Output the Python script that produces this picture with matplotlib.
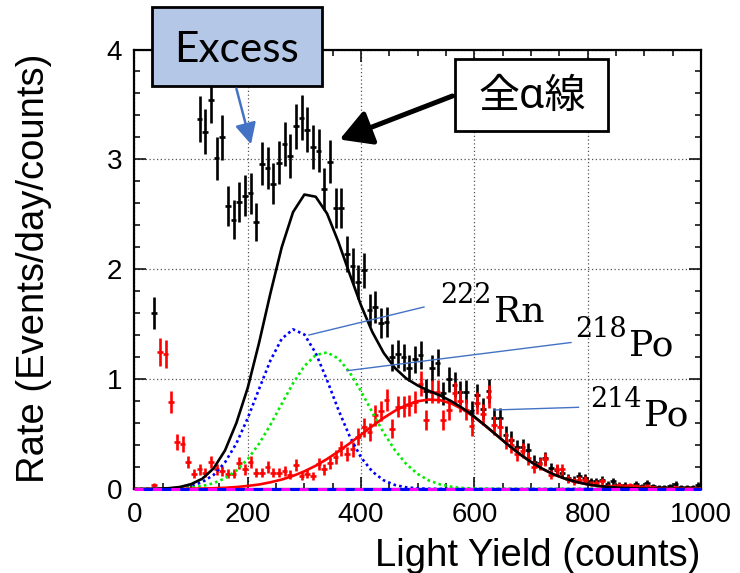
import numpy as np
import matplotlib
matplotlib.use("Agg")
import matplotlib.pyplot as plt
from matplotlib.ticker import MultipleLocator
from matplotlib.patches import Rectangle, FancyArrowPatch
from matplotlib.lines import Line2D

plt.rcParams['font.family'] = ['Liberation Sans', 'DejaVu Sans']

# ---------------- data ----------------
black_x = [35, 115, 125, 135, 145, 155, 165, 175, 185, 195, 205, 215, 225, 235, 245,
           255, 265, 275, 285, 295, 305, 315, 325, 335, 345, 355, 365, 375, 385, 395,
           405, 415, 425, 435, 445, 455, 465, 475, 485, 495, 505, 515, 525, 535, 545,
           555, 565, 575, 585, 595, 605, 615, 625, 635, 645, 655, 665, 675, 685, 695,
           705, 715, 725, 735, 745, 755, 765, 775, 785, 795, 805, 815, 825, 835, 845,
           855, 865, 875, 885, 895, 905, 915, 925, 935, 945, 955, 965, 975, 985, 995]
black_y = [1.60, 3.37, 3.25, 3.54, 3.01, 3.20, 2.58, 2.45, 2.61, 2.67, 2.69, 2.43, 2.96, 2.92, 2.78,
           2.97, 3.14, 3.03, 3.30, 3.38, 3.27, 3.11, 3.08, 2.73, 2.98, 2.56, 2.56, 2.14, 2.03, 1.88,
           1.99, 1.63, 1.66, 1.51, 1.52, 1.20, 1.23, 1.20, 1.10, 1.18, 1.22, 0.89, 1.10, 1.15, 0.87,
           1.00, 0.95, 0.88, 0.885, 0.71, 0.855, 0.73, 0.89, 0.65, 0.65, 0.49, 0.45, 0.38, 0.385, 0.355,
           0.25, 0.235, 0.28, 0.19, 0.17, 0.15, 0.10, 0.085, 0.12, 0.10, 0.07, 0.07, 0.085, 0.05, 0.07,
           0.04, 0.04, 0.03, 0.045, 0.03, 0.057, 0.03, 0.02, 0.02, 0.03, 0.05, 0.02, 0.02, 0.02, 0.04]

red_x = [35, 45, 55, 65, 75, 85, 95, 105, 115, 125, 135, 145, 155, 165, 175,
         185, 195, 205, 215, 225, 235, 245, 255, 265, 275, 285, 295, 305, 315, 325,
         335, 345, 355, 365, 375, 385, 395, 405, 415, 425, 435, 445, 455, 465, 475,
         485, 495, 505, 515, 525, 535, 545, 555, 565, 575, 585, 595, 605, 615, 625,
         635, 645, 655, 665, 675, 685, 695, 705, 715, 725, 735, 745, 755, 765, 775,
         785, 795, 805, 815, 825, 835, 845, 855, 865, 875, 885, 895, 905, 915, 925,
         935, 945, 955, 965, 975, 985, 995]
red_y = [0.036, 1.25, 1.23, 0.79, 0.43, 0.41, 0.245, 0.14, 0.18, 0.15, 0.245, 0.18, 0.16, 0.14, 0.14,
         0.24, 0.18, 0.245, 0.15, 0.15, 0.20, 0.15, 0.15, 0.16, 0.13, 0.22, 0.12, 0.14, 0.12, 0.23,
         0.18, 0.24, 0.29, 0.37, 0.32, 0.36, 0.475, 0.56, 0.52, 0.67, 0.71, 0.81, 0.55, 0.75, 0.75,
         0.76, 0.79, 0.96, 0.63, 0.885, 0.885, 0.63, 0.72, 0.87, 0.80, 0.72, 0.57, 0.78, 0.68, 0.84,
         0.58, 0.56, 0.44, 0.40, 0.32, 0.35, 0.28, 0.20, 0.23, 0.27, 0.13, 0.18, 0.18, 0.09, 0.07,
         0.085, 0.085, 0.05, 0.055, 0.07, 0.03, 0.025, 0.035, 0.03, 0.035, 0.03, 0.02, 0.03, 0.015, 0.01,
         0.01, 0.01, 0.015, 0.01, 0.01, 0.005, 0.01]

# fit curves, sampled every 20 counts from 0 to 1000
fit_x = list(range(0, 1001, 20))
rn222_fit = [0, 0, 0.001, 0.004, 0.011, 0.028, 0.063, 0.129, 0.243, 0.415, 0.644, 0.910, 1.169, 1.367,
             1.453, 1.406, 1.237, 0.991, 0.721, 0.478, 0.288, 0.158, 0.079, 0.036, 0.015, 0.006, 0.002,
             0.001] + [0] * 23
po218_fit = [0, 0, 0.001, 0.002, 0.006, 0.013, 0.027, 0.053, 0.098, 0.168, 0.272, 0.412, 0.584, 0.775,
             0.962, 1.119, 1.219, 1.243, 1.187, 1.062, 0.889, 0.697, 0.512, 0.352, 0.226, 0.137, 0.077,
             0.041, 0.020, 0.009, 0.004, 0.002, 0.001] + [0] * 18
po214_fit = [0, 0, 0, 0.001, 0.001, 0.003, 0.004, 0.007, 0.011, 0.018, 0.028, 0.041, 0.061, 0.086,
             0.119, 0.161, 0.212, 0.273, 0.341, 0.416, 0.494, 0.573, 0.647, 0.712, 0.764, 0.799, 0.814,
             0.808, 0.777, 0.724, 0.654, 0.572, 0.486, 0.399, 0.318, 0.246, 0.184, 0.133, 0.094, 0.064,
             0.042, 0.027, 0.017, 0.010, 0.006, 0.003, 0.002, 0.001, 0.001, 0, 0]
total_fit = [0, 0, 0.002, 0.007, 0.018, 0.044, 0.094, 0.189, 0.352, 0.601, 0.92, 1.33, 1.78, 2.20,
             2.52, 2.68, 2.66, 2.507, 2.249, 1.956, 1.671, 1.428, 1.238, 1.100, 1.005, 0.942, 0.893,
             0.850, 0.797, 0.733, 0.658, 0.574, 0.487, 0.399, 0.318, 0.246, 0.184, 0.133, 0.094, 0.064,
             0.042, 0.027, 0.017, 0.010, 0.006, 0.003, 0.002, 0.001, 0.001, 0, 0]

x_ticks = [0, 200, 400, 600, 800, 1000]
y_ticks = [0, 1, 2, 3, 4]
bin_half = 5
exposure = 78.0   # rate -> counts scale for Poisson error bars

W, H = 740, 573
fig = plt.figure(figsize=(W / 100, H / 100), dpi=100)


def fx(px):
    return px / W


def fy(py):
    return 1 - py / H


ax = fig.add_axes([fx(134.4), fy(489), fx(701) - fx(134.4), fy(49.5) - fy(489)])
ax.set_xlim(0, 1000)
ax.set_ylim(0, 4)

bx = np.array(black_x, float)
by = np.array(black_y, float)
rx = np.array(red_x, float)
ry = np.array(red_y, float)

ax.errorbar(bx, by, yerr=np.sqrt(by * exposure) / exposure, xerr=bin_half, fmt='none',
            ecolor='black', elinewidth=1.9, capsize=0, zorder=3)
ax.errorbar(rx, ry, yerr=np.sqrt(ry * exposure) / exposure, xerr=bin_half, fmt='none',
            ecolor='#ff0000', elinewidth=1.9, capsize=0, zorder=3)

# baseline components
ax.plot([0, 1000], [0, 0], color='#ff00ff', lw=2.2, ls=(0, (3, 3)), zorder=5, clip_on=False)
ax.plot([0, 1000], [0, 0], color='#0000ff', lw=2.2, ls=(3, (3, 3)), zorder=5, clip_on=False)

ax.plot(fit_x, rn222_fit, color='#0000ff', lw=1.9, ls=(0, (1, 1.2)), zorder=4)
ax.plot(fit_x, po218_fit, color='#00ee00', lw=1.9, ls=(0, (1, 1.2)), zorder=4)
ax.plot(fit_x, po214_fit, color='#ff0000', lw=1.9, zorder=4)
ax.plot(fit_x, total_fit, color='black', lw=1.9, zorder=4)

ax.xaxis.set_major_locator(MultipleLocator(200))
ax.xaxis.set_minor_locator(MultipleLocator(50))
ax.yaxis.set_major_locator(MultipleLocator(1))
ax.yaxis.set_minor_locator(MultipleLocator(0.2))
ax.set_xticks(x_ticks)
ax.set_xticklabels([str(v) for v in x_ticks])
ax.set_yticks(y_ticks)
ax.set_yticklabels([str(v) for v in y_ticks])
ax.tick_params(which='both', direction='in', top=True, right=True, width=1.1, labelsize=20)
ax.tick_params(which='major', length=8.6)
ax.tick_params(which='minor', length=4.3)
ax.tick_params(axis='x', pad=9)
ax.tick_params(axis='y', pad=9)
ax.grid(which='major', color='#555555', lw=0.9, ls=(0, (1, 2)))
for s in ax.spines.values():
    s.set_linewidth(1.6)

fig.text(fx(700), fy(566), 'Light Yield (counts)', ha='right', va='baseline', fontsize=27.5)
fig.text(fx(34), fy(54), 'Rate (Events/day/counts)', ha='center', va='top', rotation=90, fontsize=27.5)

# isotope labels
lab_kw = dict(family='DejaVu Serif', color='black')
for sup, sym, sx, base in [('222', 'Rn', 494, 322), ('218', 'Po', 629, 356), ('214', 'Po', 644, 426)]:
    fig.text(fx(sx), fy(base), sym, ha='left', va='baseline', fontsize=26, **lab_kw)
    fig.text(fx(sx - 2), fy(base - 19), sup, ha='right', va='baseline', fontsize=19.5, **lab_kw)

lead_col = '#4472c4'
for (x0, y0), (x1, y1) in [((309, 335), (424, 307)), ((347, 370.7), (571, 342.5)), ((494, 410), (578.5, 407.3))]:
    fig.add_artist(Line2D([fx(x0), fx(x1)], [fy(y0), fy(y1)], color=lead_col, lw=1.0, zorder=6))

# Excess box
fig.add_artist(Rectangle((fx(151.7), fy(85.7)), fx(321.7) - fx(151.7), fy(7.3) - fy(85.7),
                         facecolor='#b4c7e7', edgecolor='black', lw=2.0, zorder=8))
fig.text(fx(236.5), fy(62), 'Excess', ha='center', va='baseline', fontsize=30.5,
         family=['Lato', 'DejaVu Sans'], zorder=9)
fig.add_artist(FancyArrowPatch((fx(235.7), fy(86)), (fx(251.7), fy(147)),
                               transform=fig.transFigure, arrowstyle='-|>,head_length=0.8,head_width=0.4',
                               mutation_scale=16, color=lead_col, lw=1.8, zorder=8))

# all-alpha box
fig.add_artist(Rectangle((fx(455), fy(131)), fx(608) - fx(455), fy(59.3) - fy(131),
                         facecolor='white', edgecolor='black', lw=2.0, zorder=8))
fig.text(fx(532), fy(108), '全α線', ha='center', va='baseline', fontsize=29.5,
         family=['Noto Sans', 'Noto Sans CJK JP', 'DejaVu Sans'], zorder=9)
fig.add_artist(FancyArrowPatch((fx(455), fy(95)), (fx(337), fy(140.5)),
                               transform=fig.transFigure, arrowstyle='-|>,head_length=0.8,head_width=0.45',
                               mutation_scale=24, color='black', lw=3.6, zorder=8))

fig.savefig('out.png', dpi=100)
